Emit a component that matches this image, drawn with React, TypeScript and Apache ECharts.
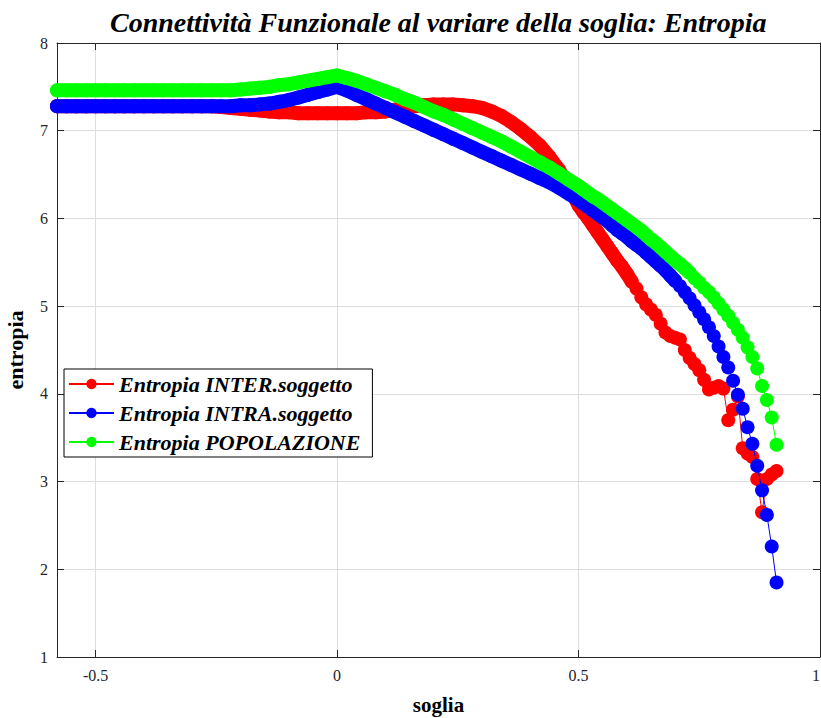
import { useEffect, useRef } from "react";
import * as echarts from "echarts";

const soglia = [
  -0.58, -0.56, -0.54, -0.52, -0.5, -0.48, -0.46, -0.44, -0.42, -0.4,
  -0.38, -0.36, -0.34, -0.32, -0.3, -0.28, -0.26, -0.24, -0.22, -0.2,
  -0.18, -0.16, -0.14, -0.12, -0.1, -0.08, -0.06, -0.04, -0.02, 0.0,
  0.02, 0.04, 0.06, 0.08, 0.1, 0.12, 0.14, 0.16, 0.18, 0.2,
  0.22, 0.24, 0.26, 0.28, 0.3, 0.32, 0.34, 0.36, 0.38, 0.4,
  0.42, 0.44, 0.46, 0.48, 0.5,
  0.51, 0.52, 0.53, 0.54, 0.55, 0.56, 0.57, 0.58, 0.59, 0.6,
  0.61, 0.62, 0.63, 0.64, 0.65, 0.66, 0.67, 0.68, 0.69, 0.7,
  0.71, 0.72, 0.73, 0.74, 0.75, 0.76, 0.77, 0.78, 0.79, 0.8,
  0.81, 0.82, 0.83, 0.84, 0.85, 0.86, 0.87, 0.88, 0.89, 0.9, 0.91,
];

const entropiaInter = [
  7.28, 7.28, 7.28, 7.28, 7.28, 7.28, 7.28, 7.28, 7.28, 7.28,
  7.28, 7.28, 7.28, 7.28, 7.28, 7.28, 7.28, 7.27, 7.26, 7.25,
  7.24, 7.23, 7.22, 7.21, 7.21, 7.2, 7.2, 7.2, 7.2, 7.2,
  7.2, 7.2, 7.21, 7.21, 7.22, 7.24, 7.26, 7.28, 7.29, 7.3,
  7.3, 7.3, 7.29, 7.28, 7.26, 7.22, 7.17, 7.1, 7.02, 6.93,
  6.83, 6.7, 6.55, 6.36, 6.15,
  6.07, 6.0, 5.92, 5.84, 5.76, 5.68, 5.6, 5.52, 5.45, 5.37,
  5.28, 5.2, 5.1, 5.02, 4.96, 4.9, 4.8, 4.7, 4.66, 4.64,
  4.62, 4.5, 4.41, 4.34, 4.27, 4.16, 4.05, 4.07, 4.09, 4.06,
  3.7, 3.82, 3.97, 3.38, 3.32, 3.28, 3.03, 2.65, 3.03, 3.08, 3.12,
];

const entropiaIntra = [
  7.28, 7.28, 7.28, 7.28, 7.28, 7.28, 7.28, 7.28, 7.28, 7.28,
  7.28, 7.28, 7.28, 7.28, 7.28, 7.28, 7.28, 7.28, 7.28, 7.29,
  7.29, 7.3, 7.31, 7.33, 7.35, 7.38, 7.41, 7.44, 7.47, 7.5,
  7.46, 7.41, 7.36, 7.31, 7.26, 7.21, 7.16, 7.11, 7.06, 7.01,
  6.96, 6.91, 6.86, 6.81, 6.76, 6.71, 6.66, 6.61, 6.56, 6.51,
  6.46, 6.41, 6.35, 6.28, 6.21,
  6.17, 6.13, 6.09, 6.05, 6.01, 5.97, 5.92, 5.87, 5.83, 5.79,
  5.74, 5.7, 5.66, 5.61, 5.56, 5.51, 5.46, 5.41, 5.35, 5.29,
  5.23, 5.16, 5.09, 5.01, 4.93, 4.85, 4.76, 4.66, 4.54, 4.42,
  4.3, 4.15, 3.99, 3.83, 3.62, 3.43, 3.18, 2.9, 2.62, 2.26, 1.85,
];

const entropiaPopolazione = [
  7.46, 7.46, 7.46, 7.46, 7.46, 7.46, 7.46, 7.46, 7.46, 7.46,
  7.46, 7.46, 7.46, 7.46, 7.46, 7.46, 7.46, 7.46, 7.46, 7.47,
  7.48, 7.49, 7.5, 7.52, 7.53, 7.55, 7.57, 7.59, 7.61, 7.63,
  7.6, 7.57, 7.53, 7.49, 7.45, 7.41, 7.36, 7.32, 7.27, 7.22,
  7.18, 7.13, 7.08, 7.03, 6.98, 6.93, 6.88, 6.82, 6.76, 6.7,
  6.64, 6.58, 6.51, 6.44, 6.37,
  6.33, 6.29, 6.25, 6.22, 6.18, 6.14, 6.1, 6.06, 6.02, 5.98,
  5.94, 5.9, 5.86, 5.81, 5.76, 5.72, 5.67, 5.62, 5.57, 5.52,
  5.48, 5.43, 5.38, 5.32, 5.27, 5.21, 5.16, 5.1, 5.03, 4.96,
  4.89, 4.81, 4.73, 4.64, 4.53, 4.42, 4.29, 4.09, 3.93, 3.73, 3.42,
];

const seriesNames = [
  "Entropia INTER.soggetto",
  "Entropia INTRA.soggetto",
  "Entropia POPOLAZIONE",
];
const seriesValues = [entropiaInter, entropiaIntra, entropiaPopolazione];
const seriesColors = ["#ff0000", "#0000ff", "#00ff00"];
// points (up to index) where the markers overlap into a continuous band
const bandEnd = [66, 75, 78];
const xTicks = [-0.5, 0, 0.5, 1];

const FONT = "'Liberation Serif', 'Times New Roman', serif";
const AXIS_COLOR = "#262626";

export default function App() {
  const ref = useRef<HTMLDivElement>(null);

  useEffect(() => {
    if (!ref.current) return;
    const chart = echarts.init(ref.current, undefined, { renderer: "svg" });

    const baseX = {
      type: "value" as const,
      min: -0.58,
      max: 1,
    };
    const baseY = {
      type: "value" as const,
      min: 1,
      max: 8,
      interval: 1,
    };

    const mainSeries = seriesNames.map((name, k) => ({
      name,
      type: "line",
      xAxisIndex: 0,
      yAxisIndex: 0,
      data: soglia.map((x, i) => [x, seriesValues[k][i]]),
      symbol: "circle",
      symbolSize: 14,
      showSymbol: true,
      showAllSymbol: true,
      clip: false,
      color: seriesColors[k],
      lineStyle: { color: seriesColors[k], width: 1 },
      itemStyle: { color: seriesColors[k] },
      z: 3 + 2 * k,
    }));

    const bandSeries = seriesNames.map((name, k) => ({
      name: name + " band",
      type: "line",
      xAxisIndex: 0,
      yAxisIndex: 0,
      data: soglia.slice(0, bandEnd[k]).map((x, i) => [x, seriesValues[k][i]]),
      symbol: "none",
      showSymbol: false,
      silent: true,
      clip: false,
      color: seriesColors[k],
      lineStyle: { color: seriesColors[k], width: 14, cap: "round", join: "round" },
      z: 2 + 2 * k,
    }));

    chart.setOption({
      animation: false,
      backgroundColor: "#ffffff",
      title: {
        text: "Connettività Funzionale al variare della soglia: Entropia",
        left: 105,
        top: 3,
        textStyle: {
          fontFamily: FONT,
          fontStyle: "italic",
          fontWeight: "bold",
          fontSize: 28,
          color: "#000",
        },
      },
      legend: {
        data: seriesNames,
        orient: "vertical",
        left: 64,
        top: 369,
        itemWidth: 45,
        itemHeight: 13,
        itemGap: 7,
        padding: [4, 12, 4, 4],
        backgroundColor: "#ffffff",
        borderColor: "#000",
        borderWidth: 1,
        borderRadius: 0,
        textStyle: {
          fontFamily: FONT,
          fontStyle: "italic",
          fontWeight: "bold",
          fontSize: 22,
          lineHeight: 22,
          color: "#000",
        },
      },
      grid: {
        left: 57,
        width: 763,
        top: 43,
        height: 614,
        containLabel: false,
        outerBoundsMode: "none",
      },
      xAxis: [
        {
          ...baseX,
          position: "bottom",
          axisLine: { show: true, onZero: false, lineStyle: { color: AXIS_COLOR, width: 1 } },
          axisTick: {
            show: true,
            inside: true,
            length: 7,
            customValues: xTicks,
            lineStyle: { color: AXIS_COLOR },
          },
          axisLabel: {
            show: true,
            customValues: xTicks,
            margin: 10,
            alignMaxLabel: "right",
            fontFamily: FONT,
            fontSize: 16,
            color: AXIS_COLOR,
            formatter: (v: number) => String(v),
          },
          splitLine: { show: true, lineStyle: { color: "#dedede", width: 1 } },
          name: "soglia",
          nameLocation: "middle",
          nameGap: 37,
          nameTextStyle: {
            fontFamily: FONT,
            fontWeight: "bold",
            fontSize: 21,
            color: "#000",
          },
        },
        {
          ...baseX,
          position: "top",
          axisLine: { show: true, onZero: false, lineStyle: { color: AXIS_COLOR, width: 1 } },
          axisTick: {
            show: true,
            inside: true,
            length: 7,
            customValues: xTicks,
            lineStyle: { color: AXIS_COLOR },
          },
          axisLabel: { show: false },
          splitLine: { show: false },
        },
      ],
      yAxis: [
        {
          ...baseY,
          position: "left",
          axisLine: { show: true, onZero: false, lineStyle: { color: AXIS_COLOR, width: 1 } },
          axisTick: { show: true, inside: true, length: 7, lineStyle: { color: AXIS_COLOR } },
          axisLabel: {
            show: true,
            margin: 9,
            fontFamily: FONT,
            fontSize: 16,
            color: AXIS_COLOR,
          },
          splitLine: { show: true, lineStyle: { color: "#dedede", width: 1 } },
          name: "entropia",
          nameLocation: "middle",
          nameGap: 31,
          nameTextStyle: {
            fontFamily: FONT,
            fontWeight: "bold",
            fontSize: 22,
            color: "#000",
          },
        },
        {
          ...baseY,
          position: "right",
          axisLine: { show: true, onZero: false, lineStyle: { color: AXIS_COLOR, width: 1 } },
          axisTick: { show: true, inside: true, length: 7, lineStyle: { color: AXIS_COLOR } },
          axisLabel: { show: false },
          splitLine: { show: false },
        },
      ],
      series: [...bandSeries, ...mainSeries],
    });

    return () => chart.dispose();
  }, []);

  return (
    <div
      ref={ref}
      style={{ position: "absolute", left: 0, top: 0, width: 821, height: 718 }}
    />
  );
}
